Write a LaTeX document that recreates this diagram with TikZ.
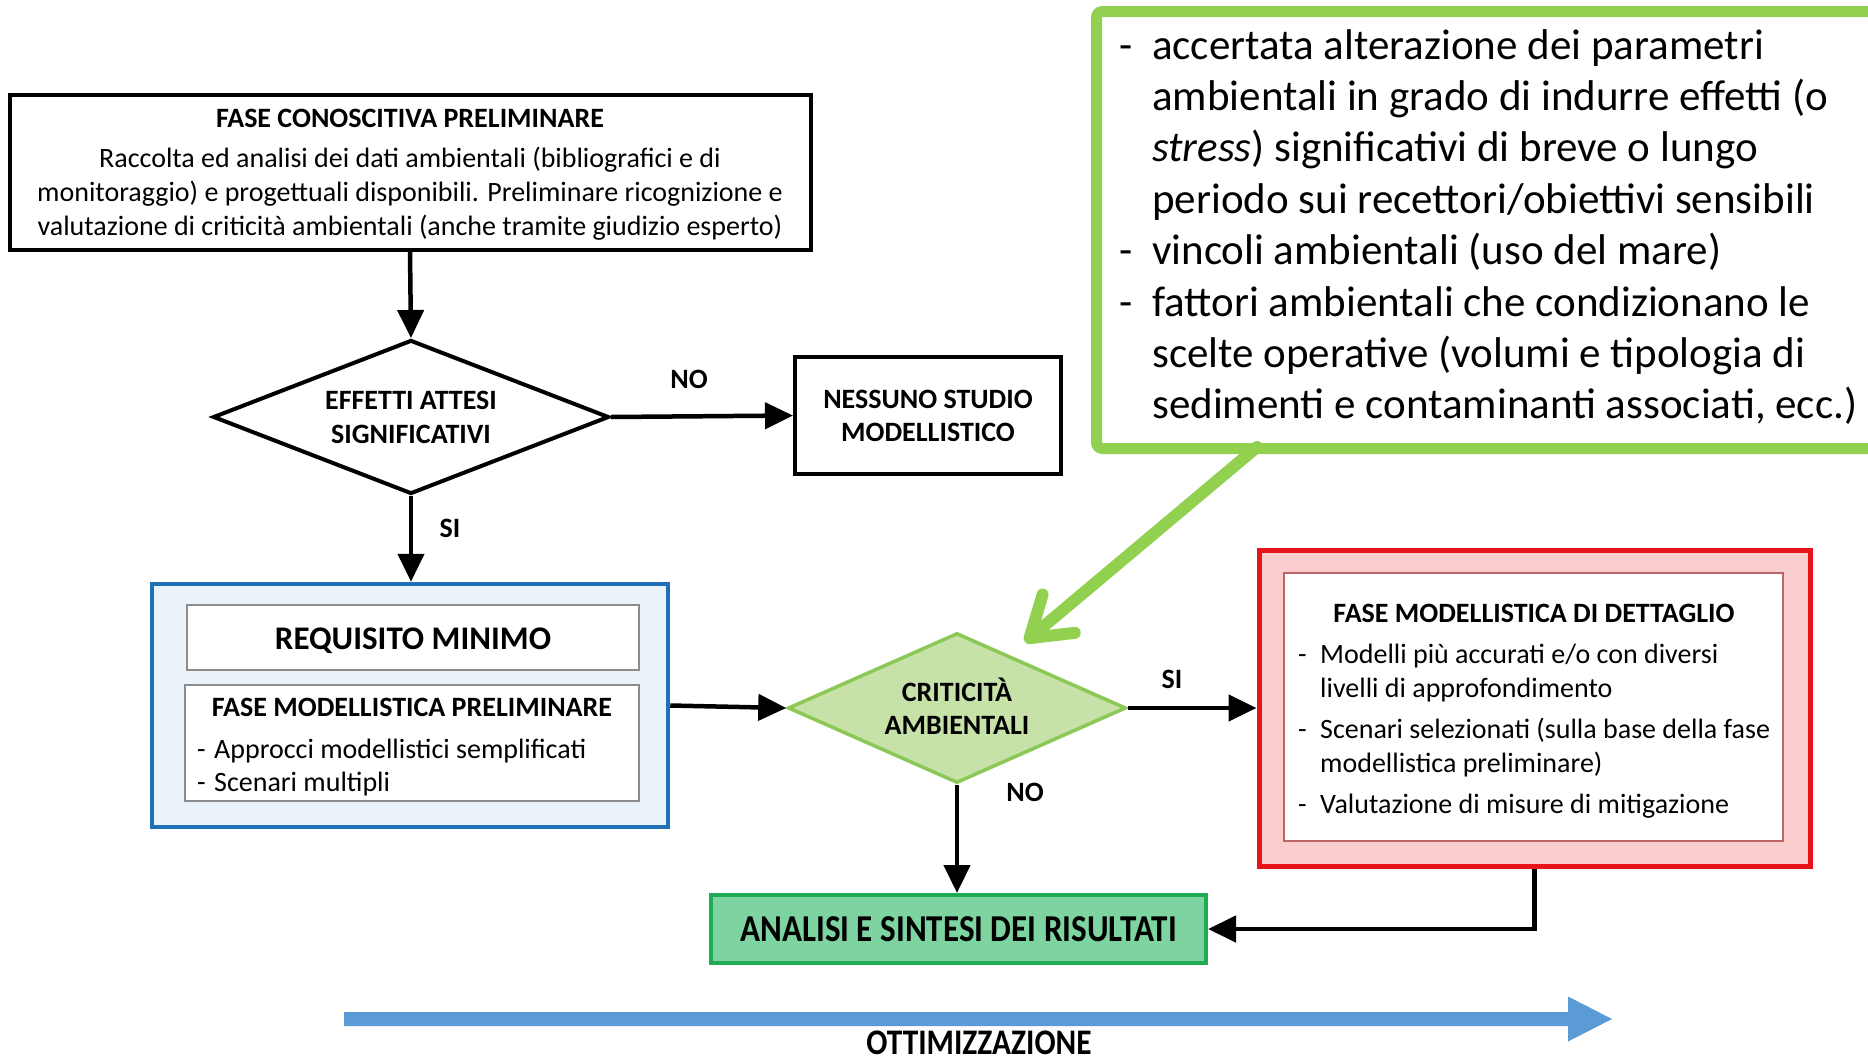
\documentclass[tikz,border=0pt]{standalone}
\usepackage{fontspec}
\setmainfont{Carlito}
\newfontfamily\tallfont[FakeStretch=0.87]{Carlito}
\usetikzlibrary{shapes.geometric,arrows.meta}

\definecolor{calloutgreen}{RGB}{146,208,80}
\definecolor{diafill}{RGB}{198,226,168}
\definecolor{diadraw}{RGB}{140,200,85}
\definecolor{blueborder}{RGB}{31,112,182}
\definecolor{bluefill}{RGB}{234,242,250}
\definecolor{innergray}{RGB}{140,140,140}
\definecolor{redborder}{RGB}{232,20,28}
\definecolor{redfill}{RGB}{250,206,206}
\definecolor{redinner}{RGB}{190,100,100}
\definecolor{resfill}{RGB}{125,212,160}
\definecolor{resdraw}{RGB}{32,172,84}
\definecolor{optblue}{RGB}{91,155,213}

\newcommand{\lowered}[2]{\raisebox{-#1}[\height][\depth]{#2}}

\begin{document}
\begin{tikzpicture}[x=1pt,y=-1pt,
  blackbox/.style={draw=black,line width=4pt,fill=white,inner sep=0pt,align=center},
  flow/.style={line width=4.5pt,-{Triangle[length=28pt,width=26pt]}},
  lbl/.style={font=\fontsize{28}{34}\selectfont\bfseries,inner sep=0pt},
  body/.style={font=\fontsize{28}{34}\selectfont,inner sep=0pt},
  head/.style={font=\fontsize{28}{34}\selectfont\bfseries,inner sep=0pt},
]
\useasboundingbox (0,0) rectangle (1868,1063);
\clip (0,0) rectangle (1868,1063);
\fill[white] (0,0) rectangle (1868,1063);

% preliminary knowledge phase
\node[blackbox,minimum width=801pt,minimum height=155pt] (top) at (410,172.5) {};
\node[body,align=center] (toptext) at (410,174.5)
  {{\bfseries FASE CONOSCITIVA PRELIMINARE}\\[6pt]
   Raccolta ed analisi dei dati ambientali (bibliografici e di\\
   monitoraggio) e progettuali disponibili. Preliminare ricognizione e\\
   valutazione di criticità ambientali (anche tramite giudizio esperto)};

% first decision
\node[diamond,aspect=2.57,draw=black,line width=4pt,fill=white,inner sep=0pt,
      minimum width=396pt,minimum height=154pt,align=center,
      font=\fontsize{28}{34}\selectfont\bfseries] (d1) at (411,417)
  {EFFETTI ATTESI\\SIGNIFICATIVI};

\node[blackbox,minimum width=266pt,minimum height=117pt,
      font=\fontsize{28}{33}\selectfont\bfseries] (nessuno) at (928,415.5)
  {NESSUNO STUDIO\\MODELLISTICO};

% minimum requirement block
\node[draw=blueborder,line width=4.5pt,fill=bluefill,minimum width=516pt,minimum height=243pt] (blue) at (410,705.5) {};
\node[draw=innergray,line width=1.5pt,fill=white,minimum width=452pt,minimum height=65pt,
      font=\fontsize{33}{38}\selectfont\bfseries] (req) at (413,637.5) {\lowered{3.5pt}{REQUISITO MINIMO}};
\node[draw=innergray,line width=1.5pt,fill=white,minimum width=454pt,minimum height=116pt] (fmp) at (412,743) {};
\node[head] (fmptitle) at (412,707.5) {FASE MODELLISTICA PRELIMINARE};
\node[body,anchor=west,font=\fontsize{28}{33}\selectfont] (fmpitems) at (197,768)
  {\begin{tabular}{@{}p{17pt}@{}l@{}}
   -&Approcci modellistici semplificati\\
   -&Scenari multipli
   \end{tabular}};

% second decision
\node[diamond,aspect=2.25,draw=diadraw,line width=3.5pt,fill=diafill,inner sep=0pt,
      minimum width=338pt,minimum height=150pt,align=center,text depth=3.6pt,
      font=\fontsize{28}{33}\selectfont\bfseries] (d2) at (957,708)
  {CRITICITÀ\\AMBIENTALI};

% detailed modelling phase
\node[draw=redborder,line width=5pt,fill=redfill,minimum width=551pt,minimum height=316pt] (red) at (1534.5,708) {};
\node[draw=redinner,line width=1.5pt,fill=white,minimum width=499pt,minimum height=268pt] (redin) at (1533.5,707) {};
\node[head] (redtitle) at (1534,613) {FASE MODELLISTICA DI DETTAGLIO};
\node[body,anchor=west] (reditems) at (1298,731.5)
  {\begin{tabular}{@{}p{22pt}@{}l@{}}
   -&Modelli più accurati e/o con diversi\\
    &livelli di approfondimento\\[7pt]
   -&Scenari selezionati (sulla base della fase\\
    &modellistica preliminare)\\[7pt]
   -&Valutazione di misure di mitigazione
   \end{tabular}};

% results
\node[draw=resdraw,line width=4pt,fill=resfill,minimum width=495pt,minimum height=68pt,
      font=\tallfont\fontsize{38}{40}\selectfont\bfseries] (analisi) at (958.5,929)
  {ANALISI E SINTESI DEI RISULTATI};

% decision labels
\node[lbl] (no1) at (689,379) {NO};
\node[lbl] (si1) at (450,528) {SI};
\node[lbl] (si2) at (1172,679) {SI};
\node[lbl] (no2) at (1025,792) {NO};

% connectors
\draw[flow] (top.south) -- (d1.north);
\draw[flow] (d1.east) -- (nessuno.west);
\draw[flow] (d1.south) -- (d1.south |- blue.north);
\draw[flow] (blue.east) -- (d2.west);
\draw[flow] (d2.east) -- (red.west);
\draw[flow] (d2.south) -- (d2.south |- analisi.north);
\draw[flow] (red.south) |- (analisi.east);

% callout with the environmental critical issues
\node[draw=calloutgreen,line width=11pt,rounded corners=6pt,fill=white,anchor=north west,
      minimum width=809pt,minimum height=437pt] (callout) at (1091,6) {};
\node[anchor=north west,inner sep=0pt,font=\fontsize{43}{51.4}\selectfont] (callouttext) at (1119,23)
  {\begin{tabular}{@{}p{33pt}@{}l@{}}
   -&accertata alterazione dei parametri\\
    &ambientali in grado di indurre effetti (o\\
    &\textit{stress}) significativi di breve o lungo\\
    &periodo sui recettori/obiettivi sensibili\\
   -&vincoli ambientali (uso del mare)\\
   -&fattori ambientali che condizionano le\\
    &scelte operative (volumi e tipologia di\\
    &sedimenti e contaminanti associati, ecc.)
   \end{tabular}};
\coordinate (ctail) at (1257,447);
\coordinate (ctip) at (1025,642);
\draw[calloutgreen,line width=12pt,line cap=round,
      -{Straight Barb[length=38pt,width=50pt,round]}] (ctail) -- (ctip);

% optimisation arrow
\fill[optblue] (344,1012) -- (1568,1012) -- (1568,996.5) -- (1612,1019)
  -- (1568,1041.5) -- (1568,1026) -- (344,1026) -- cycle;
\node[font=\tallfont\fontsize{36}{40}\selectfont\bfseries,inner sep=0pt] (optlbl) at (979,1043) {OTTIMIZZAZIONE};
\end{tikzpicture}
\end{document}
